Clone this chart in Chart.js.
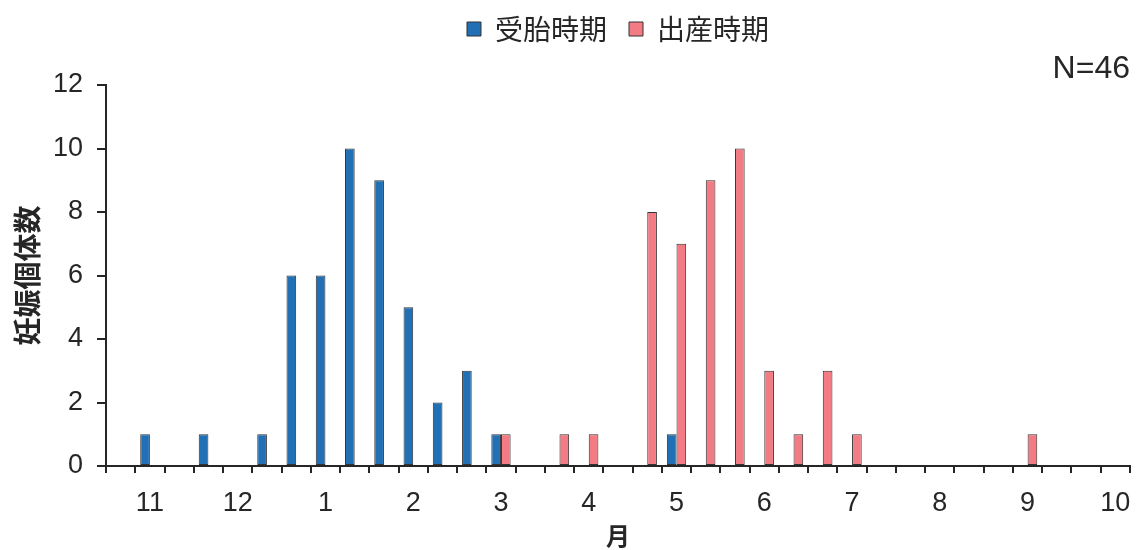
<!DOCTYPE html>
<html>
<head>
<meta charset="utf-8">
<script src="https://cdn.jsdelivr.net/npm/chart.js@4"></script>
<style>
  body { margin: 0; background: #fff; }
  #wrap { width: 1136px; height: 550px; }
</style>
</head>
<body>
<div id="wrap"><canvas id="birthChart"></canvas></div>
<script>
// 旬ごとの区分 (11月上旬 ... 10月中旬), 月名は中旬の位置に表示
const periodLabels = [
  "", "11", "", "", "12", "", "", "1", "", "", "2", "", "", "3", "", "", "4", "",
  "", "5", "", "", "6", "", "", "7", "", "", "8", "", "", "9", "", "", "10"
];
const conceptionCounts = [
  0, 1, 0, 1, 0, 1, 6, 6, 10, 9, 5, 2, 3, 1, 0, 0, 0, 0,
  0, 1, 0, 0, 0, 0, 0, 0, 0, 0, 0, 0, 0, 0, 0, 0, 0
];
const birthCounts = [
  0, 0, 0, 0, 0, 0, 0, 0, 0, 0, 0, 0, 0, 1, 0, 1, 1, 0,
  8, 7, 9, 10, 3, 1, 3, 1, 0, 0, 0, 0, 0, 1, 0, 0, 0
];
const seriesNames = ["受胎時期", "出産時期"];
const yTicks = [0, 2, 4, 6, 8, 10, 12];
const sampleNote = "N=46";

const numFont = "'Liberation Sans', Arial, sans-serif";
const jpFont = "'Noto Sans CJK JP', sans-serif";
const ink = "#262626";

new Chart(document.getElementById("birthChart"), {
  type: "bar",
  data: {
    labels: periodLabels,
    datasets: [
      {
        label: seriesNames[0],
        data: conceptionCounts,
        backgroundColor: "#2170b5",
        borderColor: "#333",
        borderWidth: 1,
        borderSkipped: false
      },
      {
        label: seriesNames[1],
        data: birthCounts,
        backgroundColor: "#f27b84",
        borderColor: "#333",
        borderWidth: 1,
        borderSkipped: false
      }
    ]
  },
  options: {
    responsive: true,
    maintainAspectRatio: false,
    animation: false,
    layout: { padding: { left: 0, right: 6, top: -7, bottom: 0 } },
    datasets: { bar: { categoryPercentage: 0.66, barPercentage: 1.0 } },
    plugins: {
      tooltip: { enabled: false },
      legend: {
        position: "top",
        fullSize: false,
        labels: {
          boxWidth: 14,
          boxHeight: 14,
          padding: 22,
          color: ink,
          font: { family: jpFont, size: 28 }
        }
      },
      // N=46 を凡例の下、右寄せで表示
      title: {
        display: true,
        text: sampleNote,
        align: "end",
        position: "top",
        weight: 500,
        color: ink,
        padding: { top: 0, bottom: 0 },
        font: { family: numFont, size: 32, weight: "normal", lineHeight: 1 }
      }
    },
    scales: {
      x: {
        grid: {
          offset: true,
          drawOnChartArea: false,
          drawTicks: true,
          tickLength: 7,
          color: ink,
          lineWidth: 2
        },
        border: { display: true, color: ink, width: 2 },
        ticks: {
          autoSkip: false,
          maxRotation: 0,
          padding: 14,
          color: ink,
          font: { family: numFont, size: 27 }
        },
        title: {
          display: true,
          text: "月",
          color: ink,
          padding: { top: 0, bottom: 0 },
          font: { family: jpFont, size: 24, weight: "bold" }
        },
        afterFit(scale) {
          scale.height = 84;
          scale.paddingLeft = 0;
          scale.paddingRight = 0;
        }
      },
      y: {
        min: 0,
        max: 12,
        afterBuildTicks(scale) { scale.ticks = yTicks.map(v => ({ value: v })); },
        grid: {
          drawOnChartArea: false,
          drawTicks: true,
          tickLength: 9,
          color: ink,
          lineWidth: 2
        },
        border: { display: true, color: ink, width: 2 },
        ticks: {
          padding: 14,
          color: ink,
          font: { family: numFont, size: 27 }
        },
        title: {
          display: true,
          text: "妊娠個体数",
          color: ink,
          padding: { top: 11, bottom: 0 },
          font: { family: jpFont, size: 28, weight: "bold" }
        },
        afterFit(scale) { scale.width = 106; }
      }
    }
  }
});
</script>
</body>
</html>
